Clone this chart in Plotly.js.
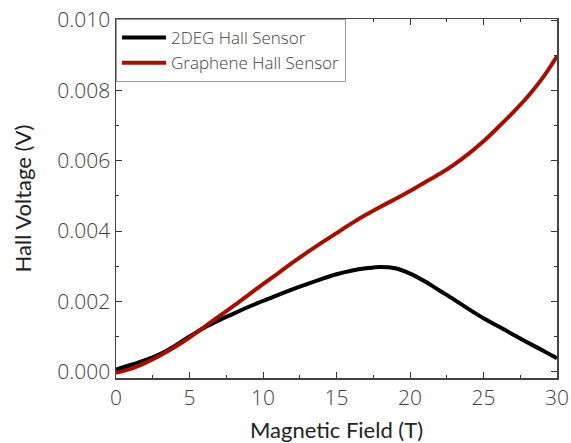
<!DOCTYPE html>
<html>
<head>
<meta charset="utf-8">
<script src="https://cdn.plot.ly/plotly-3.0.1.min.js"></script>
<style>html,body{margin:0;padding:0;background:#fff;}#chart{width:571px;height:443px;}</style>
</head>
<body>
<div id="chart"></div>
<script>
var field = [0,1,2,3,4,5,6,7,8,9,10,11,12,13,14,15,16,17,18,19,20,21,22,23,24,25,26,27,28,29,30];
var hall2DEG = [0.00006,0.00019,0.00033,0.00050,0.00073,0.00100,0.00125,0.00146,0.00165,0.00184,0.00201,0.00218,0.00234,0.00249,0.00264,0.00277,0.00287,0.00294,0.00298,0.00294,0.00279,0.00257,0.00231,0.00205,0.00178,0.00152,0.00129,0.00106,0.00083,0.00061,0.00038];
var hallGraphene = [-0.00003,0.00008,0.00025,0.00046,0.00070,0.00097,0.00127,0.00157,0.00187,0.00218,0.00249,0.00279,0.00310,0.00339,0.00367,0.00394,0.00421,0.00446,0.00469,0.00491,0.00514,0.00538,0.00562,0.00589,0.00620,0.00655,0.00695,0.00737,0.00782,0.00834,0.00897];
var seriesNames = ['2DEG Hall Sensor','Graphene Hall Sensor'];

var traces = [
  {x: field, y: hall2DEG, name: seriesNames[0], mode: 'lines', line: {color: '#000000', width: 4, shape: 'spline', smoothing: 1}},
  {x: field, y: hallGraphene, name: seriesNames[1], mode: 'lines', line: {color: '#a31000', width: 4, shape: 'spline', smoothing: 1}}
];

var tickFont = {family: 'Open Sans, sans-serif', size: 21, color: '#404040', weight: 300};
var layout = {
  width: 571, height: 443,
  margin: {l: 116, r: 14, t: 19, b: 65},
  paper_bgcolor: '#fff', plot_bgcolor: '#fff',
  showlegend: true,
  legend: {x: 0, y: 1, xanchor: 'left', yanchor: 'top', bgcolor: '#fff', bordercolor: '#999', borderwidth: 1,
           itemwidth: 44,
           font: {family: 'Open Sans, sans-serif', size: 17, color: '#404040', weight: 300}, tracegroupgap: 0},
  xaxis: {
    range: [0, 30], dtick: 5, tick0: 0, ticks: 'inside', ticklen: 6, tickcolor: '#333',
    showline: true, linecolor: '#444', linewidth: 1.5, mirror: 'ticks', showgrid: false, zeroline: false,
    tickfont: tickFont,
    minor: {dtick: 2.5, ticks: 'inside', ticklen: 3, tickcolor: '#333', showgrid: false},
    title: {text: 'Magnetic Field (T)', font: {family: 'Lato, sans-serif', size: 22, color: '#222'}, standoff: 18}
  },
  yaxis: {
    range: [-0.00018, 0.01003], dtick: 0.002, tick0: 0, tickformat: '.3f', ticks: 'inside', ticklen: 6, tickcolor: '#333',
    showline: true, linecolor: '#444', linewidth: 1.5, mirror: 'ticks', showgrid: false, zeroline: false,
    tickfont: tickFont,
    minor: {dtick: 0.001, ticks: 'inside', ticklen: 3, tickcolor: '#333', showgrid: false},
    title: {text: 'Hall Voltage (V)', font: {family: 'Lato, sans-serif', size: 22, color: '#222'}, standoff: 19}
  }
};
Plotly.newPlot('chart', traces, layout, {displayModeBar: false, staticPlot: true});
</script>
</body>
</html>
